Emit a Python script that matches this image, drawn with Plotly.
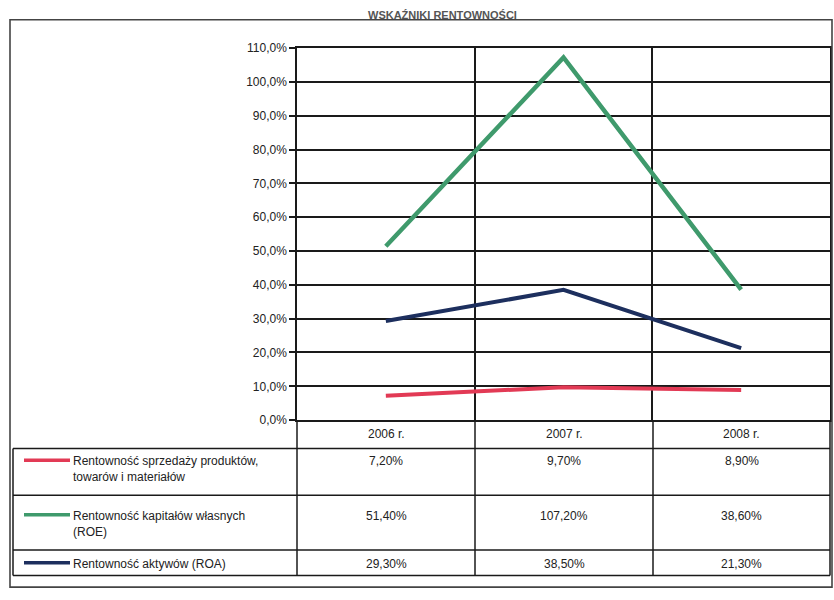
import plotly.graph_objects as go

W, H = 834, 600

years = ["2006 r.", "2007 r.", "2008 r."]
y_ticks = [0.0, 0.1, 0.2, 0.3, 0.4, 0.5, 0.6, 0.7, 0.8, 0.9, 1.0, 1.1]
y_tick_labels = ["0,0%", "10,0%", "20,0%", "30,0%", "40,0%", "50,0%", "60,0%",
                 "70,0%", "80,0%", "90,0%", "100,0%", "110,0%"]

series_names = [
    "Rentowność sprzedaży produktów,<br>towarów i materiałów",
    "Rentowność kapitałów własnych<br>(ROE)",
    "Rentowność aktywów (ROA)",
]
sales_margin = [0.072, 0.097, 0.089]
roe = [0.514, 1.072, 0.386]
roa = [0.293, 0.385, 0.213]
series_values = [sales_margin, roe, roa]
series_colors = ["#e23a55", "#3f9a6c", "#1d2f5e"]
series_widths = [4, 4.5, 4]

title_text = "WSKAŹNIKI RENTOWNOŚCI"

FONT = "Liberation Sans Narrow, Arial Narrow, Liberation Sans, Arial, sans-serif"


def px(x):
    return x / W


def py(y):
    return 1 - y / H


# geometry in pixels
PL, PR, PT, PB = 297, 830, 42, 423   # plot area
COLS = [PL, 475, 653, PR]
ROWS = [452, 500, 556, 582]          # table row bottoms (header, r1, r2, r3)
TL = 13                              # table left edge

fig = go.Figure()
for name, vals, col, wd in zip(series_names, series_values, series_colors, series_widths):
    fig.add_trace(go.Scatter(x=years, y=vals, mode="lines", name=name.replace("<br>", " "),
                             line=dict(color=col, width=wd), showlegend=False,
                             hoverinfo="skip"))

shapes = []


def line(x0, y0, x1, y1, w=1.5, c="#1a1a1a"):
    shapes.append(dict(type="line", xref="paper", yref="paper",
                       x0=px(x0), y0=py(y0), x1=px(x1), y1=py(y1),
                       line=dict(color=c, width=w)))


# outer frame
shapes.append(dict(type="rect", xref="paper", yref="paper",
                   x0=px(10), y0=py(594), x1=px(832), y1=py(13),
                   line=dict(color="#444", width=1.6)))
# table horizontal lines
for yy in ROWS:
    line(TL, yy, PR, yy)
# table verticals
line(TL, ROWS[0], TL, ROWS[-1])
for xx in COLS:
    line(xx, PB, xx, ROWS[-1])

annotations = []
annotations.append(dict(text="<b>" + title_text + "</b>", xref="paper", yref="paper",
                        x=px(442), y=py(0), xanchor="center", yanchor="top",
                        showarrow=False, font=dict(family="Arial, Liberation Sans", size=11,
                                                   color="#555")))

centers = [(COLS[i] + COLS[i + 1]) / 2 for i in range(3)]
for c, yr in zip(centers, years):
    annotations.append(dict(text=yr, xref="paper", yref="paper", x=px(c), y=py(437),
                            xanchor="center", yanchor="middle", showarrow=False,
                            font=dict(family=FONT, size=12, color="#222")))

row_text_y = [465, 521, 570]
for i, (name, vals, col) in enumerate(zip(series_names, series_values, series_colors)):
    ty = row_text_y[i]
    line(24, ty - 1, 70, ty - 1, w=3.5, c=col)
    annotations.append(dict(text=name, xref="paper", yref="paper", x=px(71), y=py(ty - 9),
                            xanchor="left", yanchor="top", align="left", showarrow=False,
                            font=dict(family=FONT, size=12, color="#222")))
    for c, v in zip(centers, vals):
        txt = f"{v * 100:.2f}%".replace(".", ",")
        annotations.append(dict(text=txt, xref="paper", yref="paper", x=px(c), y=py(ty),
                                xanchor="center", yanchor="middle", showarrow=False,
                                font=dict(family=FONT, size=12, color="#222")))

fig.update_layout(
    width=W, height=H,
    margin=dict(l=0, r=0, t=0, b=0),
    paper_bgcolor="white", plot_bgcolor="white",
    shapes=shapes, annotations=annotations,
    separators=", ",
    xaxis=dict(domain=[px(PL), px(PR)], type="category", range=[-0.5, 2.5],
               showticklabels=False, ticks="", tickson="boundaries",
               showgrid=True, gridcolor="#1a1a1a", gridwidth=1.5,
               showline=True, linecolor="#1a1a1a", linewidth=1.5, mirror=True,
               zeroline=False),
    yaxis=dict(domain=[py(PB), py(PT)], range=[0, 1.1],
               tickmode="array", tickvals=y_ticks, ticktext=y_tick_labels,
               ticks="outside", ticklen=6, tickcolor="#1a1a1a", tickwidth=1.5,
               showgrid=True, gridcolor="#1a1a1a", gridwidth=1.5,
               showline=True, linecolor="#1a1a1a", linewidth=1.5, mirror=True,
               zeroline=False,
               tickfont=dict(family=FONT, size=12, color="#222")),
)

fig.write_html("out.html")
